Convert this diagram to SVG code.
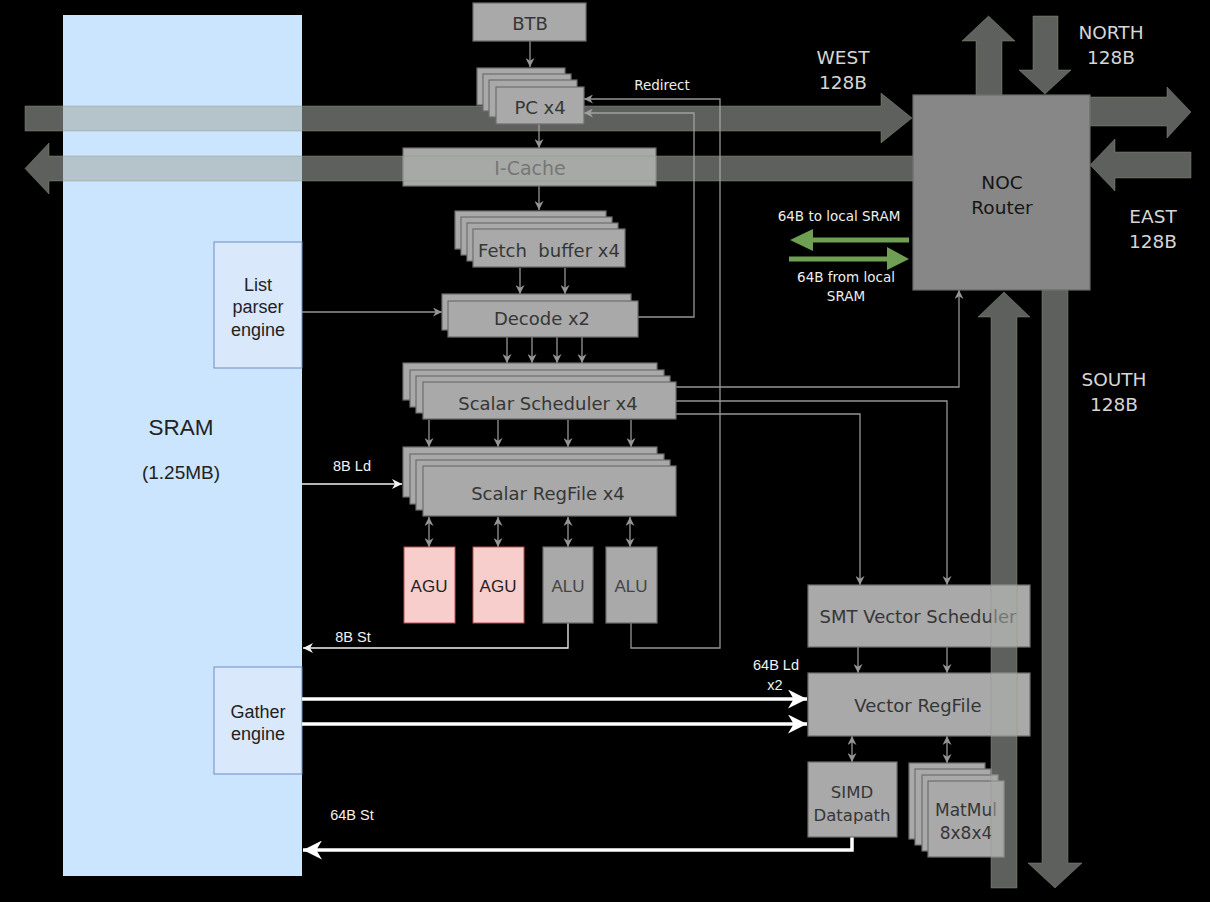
<svg xmlns="http://www.w3.org/2000/svg" width="1210" height="902" viewBox="0 0 1210 902">
<defs>
<style>
.bx{fill:#a9a9a9;stroke:#6e6e6e;stroke-width:1.2}
.t{font-family:"DejaVu Sans",Verdana,sans-serif;font-size:18px;fill:#363636;text-anchor:middle}
.ta{font-family:"Liberation Sans",Arial,sans-serif;text-anchor:middle}
.lb{font-family:"DejaVu Sans",Verdana,sans-serif;font-size:18.5px;fill:#d6d6d6;text-anchor:middle}
.sm{font-family:"DejaVu Sans",Verdana,sans-serif;font-size:13.5px;fill:#eeeeee;text-anchor:middle}
.sa{font-family:"Liberation Sans",Arial,sans-serif;font-size:14.5px;fill:#f2f2f2;text-anchor:middle}
.big{fill:#a3a8a3;fill-opacity:0.57;stroke:#8a9a78;stroke-opacity:0.45;stroke-width:1}
.cg{fill:none;stroke:#959595;stroke-width:1.3}
.cw{fill:none;stroke:#f2f2f2;stroke-width:1.3}
.cW{fill:none;stroke:#ffffff;stroke-width:3.5}
.blue{fill:#dae8fc;stroke:#6c8ebf;stroke-width:1}
</style>
<marker id="ag" viewBox="0 0 10 10" refX="10" refY="5" markerWidth="9" markerHeight="9" markerUnits="userSpaceOnUse" orient="auto-start-reverse"><path d="M0,0 L10,5 L0,10 L3,5 z" fill="#959595"/></marker>
<marker id="aw" viewBox="0 0 10 10" refX="10" refY="5" markerWidth="10" markerHeight="10" markerUnits="userSpaceOnUse" orient="auto"><path d="M0,0 L10,5 L0,10 L3,5 z" fill="#f2f2f2"/></marker>
<marker id="aW" viewBox="0 0 10 10" refX="10" refY="5" markerWidth="19" markerHeight="19" markerUnits="userSpaceOnUse" orient="auto"><path d="M0,0 L10,5 L0,10 L3,5 z" fill="#ffffff"/></marker>
</defs>
<rect width="1210" height="902" fill="#000"/>

<g id="sram"><rect x="63" y="15" width="239" height="861" fill="#cce5ff"/>
<text class="ta" x="181" y="435" font-size="22.5" fill="#222">SRAM</text>
<text class="ta" x="181" y="479" font-size="19" fill="#222">(1.25MB)</text></g>
<g id="listparser"><rect class="blue" x="214" y="242" width="88" height="126"/>
<text class="ta" font-size="18" fill="#222"><tspan x="258" y="291">List</tspan><tspan x="258" y="313">parser</tspan><tspan x="258" y="336">engine</tspan></text></g>
<g id="gather"><rect class="blue" x="214" y="667" width="88" height="107"/>
<text class="ta" font-size="18" fill="#222"><tspan x="258" y="718">Gather</tspan><tspan x="258" y="740">engine</tspan></text></g>

<g id="connectors">
<path class="cg" d="M530,41 V67" marker-end="url(#ag)"/>
<path class="cg" d="M539,124 V148" marker-end="url(#ag)"/>
<path class="cg" d="M539,186 V210" marker-end="url(#ag)"/>
<path class="cg" d="M520,268 V294" marker-end="url(#ag)"/>
<path class="cg" d="M565,268 V294" marker-end="url(#ag)"/>
<path class="cg" d="M302,312 H442" marker-end="url(#ag)"/>
<path class="cg" d="M638,317 H694 V113 H584" marker-end="url(#ag)"/>
<path class="cg" d="M507,337 V363" marker-end="url(#ag)"/>
<path class="cg" d="M532,337 V363" marker-end="url(#ag)"/>
<path class="cg" d="M557,337 V363" marker-end="url(#ag)"/>
<path class="cg" d="M582,337 V363" marker-end="url(#ag)"/>
<path class="cg" d="M429,420 V447" marker-end="url(#ag)"/>
<path class="cg" d="M498,420 V447" marker-end="url(#ag)"/>
<path class="cg" d="M568,420 V447" marker-end="url(#ag)"/>
<path class="cg" d="M631,420 V447" marker-end="url(#ag)"/>
<path class="cg" d="M429,517 V547" marker-start="url(#ag)" marker-end="url(#ag)"/>
<path class="cg" d="M498,517 V547" marker-start="url(#ag)" marker-end="url(#ag)"/>
<path class="cg" d="M568,517 V547" marker-start="url(#ag)" marker-end="url(#ag)"/>
<path class="cg" d="M630,517 V547" marker-start="url(#ag)" marker-end="url(#ag)"/>
<path class="cg" d="M676,387 H959 V290" marker-end="url(#ag)"/>
<path class="cg" d="M676,401 H947 V585" marker-end="url(#ag)"/>
<path class="cg" d="M676,414 H860 V585" marker-end="url(#ag)"/>
<path class="cg" d="M631,623 V648 H720 V99 H584" marker-end="url(#ag)"/>
<path class="cw" d="M568,623 V648 H303" marker-end="url(#aw)"/>
<path class="cw" d="M302,484 H402" marker-end="url(#aw)"/>
<path class="cg" d="M858,647 V673" marker-end="url(#ag)"/>
<path class="cg" d="M947,647 V673" marker-end="url(#ag)"/>
<path class="cg" d="M852,736 V762" marker-start="url(#ag)" marker-end="url(#ag)"/>
<path class="cg" d="M947,736 V763" marker-start="url(#ag)" marker-end="url(#ag)"/>
<path class="cW" d="M302,699 H807" marker-end="url(#aW)"/>
<path class="cW" d="M302,724 H807" marker-end="url(#aW)"/>
<path class="cW" d="M852,837 V850 H303" marker-end="url(#aW)"/>
</g>

<g id="btb"><rect class="bx" x="473" y="3" width="113" height="38"/><text class="t" x="530" y="30">BTB</text></g>

<polygon class="big" id="west-in" points="25,106 881,106 881,93 912,118 881,143 881,131 25,131"/>

<g id="pc">
<rect class="bx" x="477" y="68" width="88" height="37"/>
<rect class="bx" x="483" y="74" width="88" height="37"/>
<rect class="bx" x="489" y="80" width="88" height="37"/>
<rect class="bx" x="496" y="87" width="88" height="37"/>
<text class="t" x="540" y="113.5">PC x4</text></g>

<g id="icache"><rect class="bx" x="403" y="148" width="253" height="38"/><text class="t" x="530" y="174.5" style="font-size:19px">I-Cache</text></g>

<polygon class="big" id="west-out" points="913,156 49,156 49,143 25,168.5 49,194 49,181 913,181"/>

<g id="fetch">
<rect class="bx" x="455" y="211" width="151" height="38"/>
<rect class="bx" x="461" y="217" width="151" height="38"/>
<rect class="bx" x="467" y="223" width="151" height="38"/>
<rect class="bx" x="473" y="229" width="152" height="38"/>
<text class="t" x="549" y="256.5" xml:space="preserve">Fetch  buffer x4</text></g>

<g id="decode">
<rect class="bx" x="442" y="294" width="189" height="36"/>
<rect class="bx" x="448" y="301" width="190" height="36"/>
<text class="t" x="542" y="325">Decode x2</text></g>

<g id="scheduler">
<rect class="bx" x="403" y="363" width="254" height="37"/>
<rect class="bx" x="410" y="370" width="254" height="37"/>
<rect class="bx" x="416" y="376" width="254" height="37"/>
<rect class="bx" x="423" y="382" width="253" height="37"/>
<text class="t" x="548" y="409.5">Scalar Scheduler x4</text></g>

<g id="regfile">
<rect class="bx" x="403" y="447" width="254" height="50"/>
<rect class="bx" x="410" y="454" width="254" height="50"/>
<rect class="bx" x="416" y="460" width="254" height="50"/>
<rect class="bx" x="423" y="466" width="253" height="50"/>
<text class="t" x="548" y="499.5">Scalar RegFile x4</text></g>

<g id="agu1"><rect x="404" y="547" width="51" height="76" fill="#f8cecc" stroke="#b85450" stroke-width="1"/><text class="ta" x="429" y="592" font-size="17" fill="#222">AGU</text></g>
<g id="agu2"><rect x="473" y="547" width="51" height="76" fill="#f8cecc" stroke="#b85450" stroke-width="1"/><text class="ta" x="498" y="592" font-size="17" fill="#222">AGU</text></g>
<g id="alu1"><rect class="bx" x="543" y="547" width="50" height="76"/><text class="ta" x="568" y="592" font-size="17" fill="#444">ALU</text></g>
<g id="alu2"><rect class="bx" x="606" y="547" width="51" height="76"/><text class="ta" x="631" y="592" font-size="17" fill="#444">ALU</text></g>

<g id="smt"><rect class="bx" x="808" y="585" width="222" height="62"/><text class="t" x="918" y="623">SMT Vector Scheduler</text></g>
<g id="vrf"><rect class="bx" x="808" y="673" width="222" height="63"/><text class="t" x="918" y="712">Vector RegFile</text></g>
<g id="simd"><rect class="bx" x="808" y="762" width="89" height="75"/><text class="t" style="font-size:16.5px"><tspan x="852" y="798">SIMD</tspan><tspan x="852" y="821">Datapath</tspan></text></g>
<g id="matmul">
<rect class="bx" x="909" y="763" width="76" height="76"/>
<rect class="bx" x="915" y="769" width="76" height="76"/>
<rect class="bx" x="922" y="775" width="76" height="76"/>
<rect class="bx" x="928" y="781" width="76" height="76"/>
<text class="t" style="font-size:17px"><tspan x="966" y="816">MatMul</tspan><tspan x="966" y="839">8x8x4</tspan></text></g>

<g id="noc-arrows">
<polygon class="big" points="976,95 976,41 962,41 988.5,16 1015,41 1002,41 1002,95"/>
<polygon class="big" points="1033,16 1058,16 1058,70 1071,70 1045,94 1019,70 1033,70"/>
<polygon class="big" points="1090,97 1167,97 1167,87 1191,112 1167,138 1167,126 1090,126"/>
<polygon class="big" points="1191,152 1115,152 1115,139 1090,165 1115,191 1115,178 1191,178"/>
<polygon class="big" points="991,888 991,317 978,317 1004,292 1030,317 1017,317 1017,888"/>
<polygon class="big" points="1042,290 1068,290 1068,863 1082,863 1055,888 1028,863 1042,863"/>
</g>

<g id="noc"><rect x="913" y="95" width="177" height="195" fill="#878787" stroke="#6a6a6a" stroke-width="1.2"/>
<text class="t" x="1002" y="189" style="font-size:18.5px;fill:#151515">NOC</text>
<text class="t" x="1002" y="214" style="font-size:18.5px;fill:#151515">Router</text></g>

<g id="green-arrows" fill="#6f9f52">
<polygon points="909,237.5 813,237.5 813,229 790,240 813,251 813,242.5 909,242.5"/>
<polygon points="789,256.5 887,256.5 887,247 909,259 887,270 887,261.5 789,261.5"/>
</g>

<g id="labels">
<text class="lb" x="843" y="64">WEST</text><text class="lb" x="843" y="89">128B</text>
<text class="lb" x="1111" y="39">NORTH</text><text class="lb" x="1111" y="64">128B</text>
<text class="lb" x="1153" y="223">EAST</text><text class="lb" x="1153" y="248">128B</text>
<text class="lb" x="1114" y="386">SOUTH</text><text class="lb" x="1114" y="411">128B</text>
<text class="sm" x="839" y="220.5">64B to local SRAM</text>
<text class="sm" x="846" y="281.5">64B from local</text>
<text class="sm" x="846" y="300.5">SRAM</text>
<text class="sm" x="662" y="89.5">Redirect</text>
<text class="sa" x="352" y="471">8B Ld</text>
<text class="sa" x="353" y="642">8B St</text>
<text class="sa" x="776" y="670">64B Ld</text>
<text class="sa" x="775" y="690">x2</text>
<text class="sa" x="352" y="820">64B St</text>
</g>
</svg>
